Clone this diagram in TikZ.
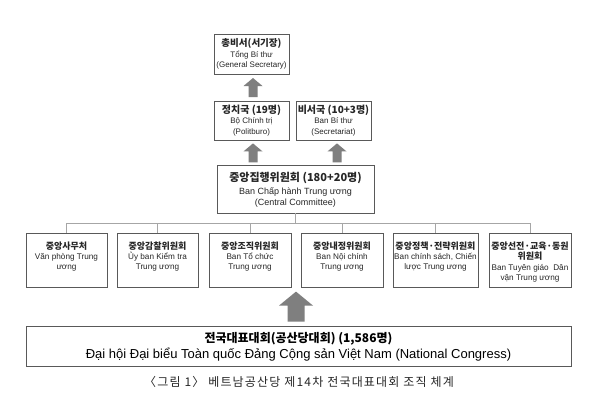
\documentclass[tikz,border=0pt]{standalone}
\usepackage{fontspec}
\setmainfont{Liberation Sans}
\newfontfamily\kr{Noto Sans CJK KR}
\newfontfamily\krcap[LetterSpace=10]{Noto Sans CJK KR}
\usetikzlibrary{calc}
\definecolor{boxline}{HTML}{595959}
\definecolor{busline}{HTML}{A6A6A6}
\definecolor{arrowgray}{HTML}{7F7F7F}
\definecolor{txt}{HTML}{262626}
\tikzset{
  orgbox/.style={draw=boxline, line width=0.8pt, fill=white, inner sep=0pt},
  boxtext/.style={inner sep=0pt, align=center, text=txt, font=\fontsize{8.2}{10}\selectfont},
  bus/.style={draw=busline, line width=0.8pt},
  smallarrow/.pic={\fill[arrowgray] (-4.5,9.5) -- (-4.5,-1.5) -- (-9.5,-1.5) -- (0,-9.5) -- (9.5,-1.5) -- (4.5,-1.5) -- (4.5,9.5) -- cycle;},
  bigarrow/.pic={\fill[arrowgray] (-8.5,15) -- (-8.5,-1) -- (-17,-1) -- (0,-15) -- (17,-1) -- (8.5,-1) -- (8.5,15) -- cycle;},
}
\newcommand{\krt}[1]{{\kr\bfseries\fontsize{9}{10}\selectfont #1}}
\begin{document}
\begin{tikzpicture}[x=1pt,y=-1pt]
\useasboundingbox (0,0) rectangle (595,413);
\fill[white] (0,0) rectangle (595,413);

% top levels
\node[orgbox, minimum width=75pt, minimum height=40pt] (GS) at (251.5,54) {};
\node[boxtext, font=\fontsize{8}{10.5}\selectfont] (GSt) at (251.5,54) {{\kr\bfseries\fontsize{9.5}{10.5}\selectfont 총비서(서기장)}\\Tổng Bí thư\\(General Secretary)};

\node[orgbox, minimum width=75pt, minimum height=39pt] (PB) at (251.5,120.5) {};
\node[boxtext, font=\fontsize{8}{10.5}\selectfont] (PBt) at (251.5,120.5) {{\kr\bfseries\fontsize{10}{10.5}\selectfont 정치국 (19명)}\\Bộ Chính trị\\(Politburo)};

\node[orgbox, minimum width=75pt, minimum height=39pt] (SC) at (333.5,120.5) {};
\node[boxtext, font=\fontsize{8}{10.5}\selectfont] (SCt) at (333.5,120.5) {{\kr\bfseries\fontsize{10}{10.5}\selectfont 비서국 (10+3명)}\\Ban Bí thư\\(Secretariat)};

\node[orgbox, minimum width=157pt, minimum height=48pt] (CC) at (295.5,189) {};
\node[boxtext, font=\fontsize{9}{11.5}\selectfont] (CCt) at (295.5,190) {{\kr\bfseries\fontsize{11}{11.5}\selectfont 중앙집행위원회 (180+20명)}\\[1.5pt]Ban Chấp hành Trung ương\\(Central Committee)};

% arrows
\pic at ($(GS.south)!0.5!(PB.north)+(1.5,0)$) {smallarrow};
\pic at ($(PB.south)+(1.5,12.5)$) {smallarrow};
\pic at ($(SC.south)+(3.5,12.5)$) {smallarrow};

% departments
\node[orgbox, minimum width=81pt, minimum height=54pt] (B1) at (66.5,260) {};
\node[orgbox, minimum width=81pt, minimum height=54pt] (B2) at (157.5,260) {};
\node[orgbox, minimum width=82pt, minimum height=54pt] (B3) at (250,260) {};
\node[orgbox, minimum width=82pt, minimum height=54pt] (B4) at (342,260) {};
\node[orgbox, minimum width=85pt, minimum height=54pt] (B5) at (435.5,260) {};
\node[orgbox, minimum width=82pt, minimum height=54pt] (B6) at (530,260) {};

\node[boxtext] (B1t) at (66.5,257) {\krt{중앙사무처}\\Văn phòng Trung\\ương};
\node[boxtext] (B2t) at (157.5,257) {\krt{중앙감찰위원회}\\Ủy ban Kiểm tra\\Trung ương};
\node[boxtext] (B3t) at (250,257) {\krt{중앙조직위원회}\\Ban Tổ chức\\Trung ương};
\node[boxtext] (B4t) at (342,257) {\krt{중앙내정위원회}\\Ban Nội chính\\Trung ương};
\node[boxtext] (B5t) at (435.5,257) {\krt{중앙정책·전략위원회}\\Ban chính sách, Chiến\\lược Trung ương};
\node[boxtext] (B6t) at (530,262) {\krt{중앙선전·교육·동원}\\\krt{위원회}\\[1.5pt]Ban Tuyên giáo\ \ Dân\\vận Trung ương};

% bus
\coordinate (busc) at (CC.south |- 0,223);
\draw[bus] (CC.south) -- (busc);
\draw[bus] (B1.north |- busc) -- (B6.north |- busc);
\foreach \b in {B1,B2,B3,B4,B5,B6} \draw[bus] (\b.north |- busc) -- (\b.north);

% congress
\node[orgbox, minimum width=545pt, minimum height=40pt] (NC) at (298.5,346) {};
\node[boxtext, text=black, font=\fontsize{13}{16}\selectfont] (NCt) at (298.5,347) {{\kr\bfseries\fontsize{12}{16}\selectfont 전국대표대회(공산당대회) (1,586명)}\\Đại hội Đại biểu Toàn quốc Đảng Cộng sản Việt Nam (National Congress)};

\pic at ($(NC.north)+(-2.5,-19)$) {bigarrow};

% caption
\node[inner sep=0pt, text=txt, font=\krcap\fontsize{12}{14}\selectfont] (cap) at (299,382) {〈그림 1〉 베트남공산당 제14차 전국대표대회 조직 체계};
\end{tikzpicture}
\end{document}
